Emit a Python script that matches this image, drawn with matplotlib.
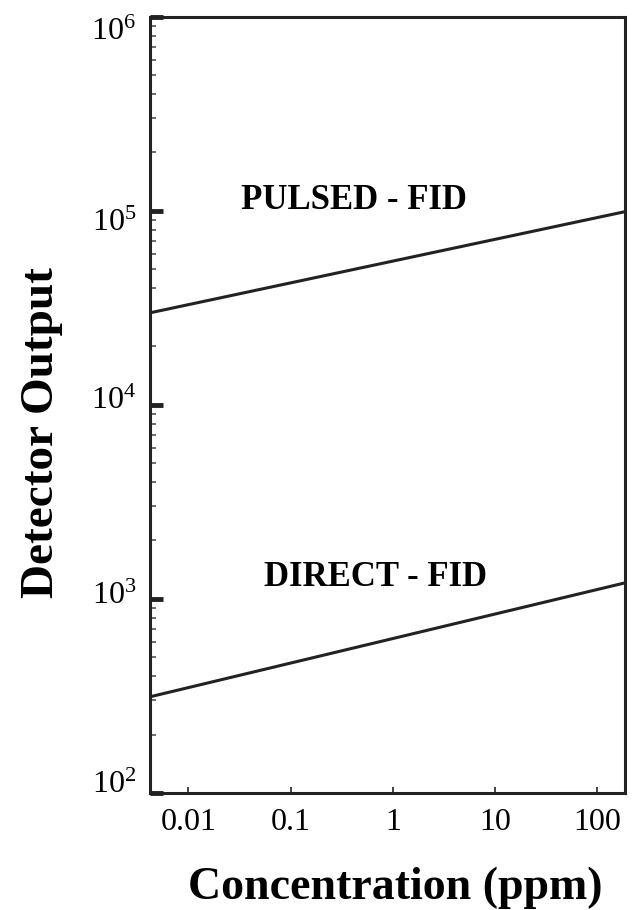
import matplotlib
matplotlib.use('Agg')
import matplotlib.pyplot as plt
import matplotlib.transforms as mtransforms
from matplotlib.ticker import LogLocator, FixedLocator, FixedFormatter, NullFormatter

plt.rcParams['font.family'] = ['Liberation Serif', 'DejaVu Serif']
plt.rcParams['mathtext.fontset'] = 'custom'
plt.rcParams['mathtext.rm'] = 'Liberation Serif'

# data (log-log straight lines)
conc = [0.0042, 188.]
pulsed_fid = [2.98e4, 9.9e4]
direct_fid = [313., 1.21e3]

x_ticks = [0.01, 0.1, 1, 10, 100]
x_labels = ['0.01', '0.1', '1', '10', '100']
y_ticks = [1e2, 1e3, 1e4, 1e5, 1e6]
y_labels = [r'$\mathregular{10^{2}}$', r'$\mathregular{10^{3}}$', r'$\mathregular{10^{4}}$',
            r'$\mathregular{10^{5}}$', r'$\mathregular{10^{6}}$']

fig = plt.figure(figsize=(6.42, 9.10), dpi=100)
ax = fig.add_axes([0.2336, 0.1286, 0.740, 0.853])

ax.plot(conc, pulsed_fid, color='#222222', lw=2.2)
ax.plot(conc, direct_fid, color='#222222', lw=2.2)

ax.set_xscale('log')
ax.set_yscale('log')
ax.set_xlim(conc[0], conc[-1])
ax.set_ylim(1e2, 1e6)

ax.xaxis.set_major_locator(FixedLocator(x_ticks))
ax.xaxis.set_major_formatter(FixedFormatter(x_labels))
ax.yaxis.set_major_locator(FixedLocator(y_ticks))
ax.yaxis.set_major_formatter(FixedFormatter(y_labels))
ax.xaxis.set_minor_locator(LogLocator(base=10, subs=range(2, 10)))
ax.yaxis.set_minor_locator(LogLocator(base=10, subs=range(2, 10)))
ax.xaxis.set_minor_formatter(NullFormatter())
ax.yaxis.set_minor_formatter(NullFormatter())

ax.tick_params(which='major', direction='in', labelsize=23, colors='#222222', labelcolor='black')
ax.tick_params(axis='x', which='major', length=4, width=1.2, pad=11)
ax.tick_params(axis='y', which='major', length=9, width=3.5, pad=10)
ax.tick_params(which='minor', direction='in', length=4, width=1.2, colors='#555555')
for s in ax.spines.values():
    s.set_linewidth(2.2)
    s.set_color('#222222')

# the scanned y labels do not sit exactly on their ticks
shift_px = [-11, -6, -7, 9, 12]
fig.canvas.draw()
for lab, d in zip(ax.get_yticklabels(), shift_px):
    lab.set_transform(lab.get_transform() + mtransforms.ScaledTranslation(0, -d / 100., fig.dpi_scale_trans))

ax.text(0.43, 0.763, 'PULSED - FID', transform=ax.transAxes, ha='center', va='center',
        fontsize=25, fontweight='bold')
ax.text(0.474, 0.277, 'DIRECT - FID', transform=ax.transAxes, ha='center', va='center',
        fontsize=25, fontweight='bold')

ax.set_xlabel('Concentration (ppm)', fontsize=33, fontweight='bold')
ax.xaxis.set_label_coords(0.516, -0.122)
ax.set_ylabel('Detector Output', fontsize=34, fontweight='bold')
ax.yaxis.set_label_coords(-0.227, 0.464)
ax.xaxis.label.set_va('center')
ax.yaxis.label.set_va('center')

plt.savefig('out.png', dpi=100)
